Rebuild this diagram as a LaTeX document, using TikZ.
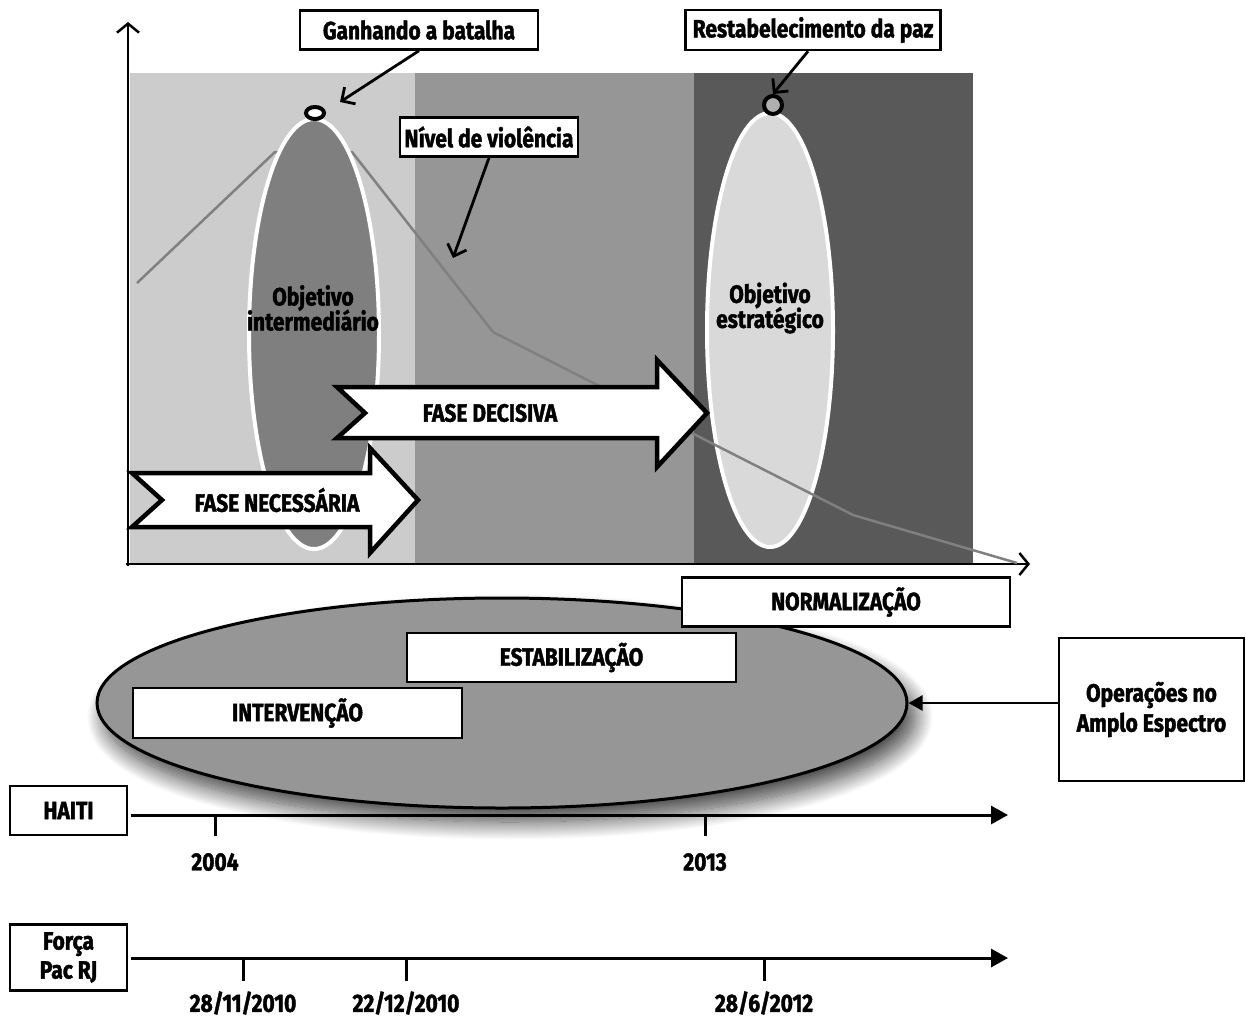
\documentclass[tikz,border=0pt]{standalone}
\usepackage{fontspec}
\setmainfont{Fira Sans}[FakeStretch=0.84, BoldFeatures={FakeBold=1.6}]
\usetikzlibrary{arrows.meta,shapes.geometric,shadows.blur}
\definecolor{panelA}{HTML}{CCCCCC}
\definecolor{panelB}{HTML}{969696}
\definecolor{panelC}{HTML}{595959}
\definecolor{ellA}{HTML}{7F7F7F}
\definecolor{ellB}{HTML}{D9D9D9}
\definecolor{violence}{HTML}{808080}
\definecolor{ringfill}{HTML}{B0B0B0}
\begin{document}
\begin{tikzpicture}[x=1pt,y=-1pt,
  txt/.style={font=\fontsize{25}{27}\selectfont\bfseries, inner sep=0pt, align=center},
  box/.style={txt, draw, line width=2.5pt, fill=white, minimum width=#1},
  callarrow/.style={line width=2.8pt, -{Straight Barb[length=10pt,width=20pt]}},
  axisarrow/.style={line width=2.5pt, -{Straight Barb[length=9pt,width=22pt]}},
  timeline/.style={line width=3pt, -{Triangle[length=17pt,width=18pt]}},
  tick/.style={line width=3pt},
  blockarrow/.style={draw=black, line width=4.5pt, fill=white, line join=miter},
]
\useasboundingbox (0,0) rectangle (1246,1026);

% background panels
\fill[panelA] (130,73) rectangle (415,563);
\fill[panelB] (415,73) rectangle (694,563);
\fill[panelC] (694,73) rectangle (973,563);

% axes
\draw[axisarrow] (128,566) -- (128,22);
\draw[axisarrow] (126,564) -- (1030,564);

% strategic objective ellipse
\node[ellipse, draw=white, line width=4pt, fill=ellB, minimum width=126pt, minimum height=434pt, inner sep=0pt] (obj2) at (770,330) {};

% violence level line
\draw[violence, line width=2.5pt, line join=round] (137,283) -- (275,152) -- (352,152) -- (493,332) -- (853,515) -- (1017,563);

% intermediate objective ellipse
\node[ellipse, draw=white, line width=4pt, fill=ellA, minimum width=130pt, minimum height=430pt, inner sep=0pt] (obj1) at (314,334) {};

% rings
\node[ellipse, draw=black, line width=4pt, fill=white, minimum width=18pt, minimum height=12pt, inner sep=0pt] (ring1) at (315,113) {};
\node[circle, draw=black, line width=4pt, fill=ringfill, minimum size=18pt, inner sep=0pt] (ring2) at (773,105) {};

\node[txt] (obj1txt) at (313,308) {Objetivo\\[-2pt]intermediário};
\node[txt] (obj2txt) at (770,308) {Objetivo\\[-2pt]estratégico};

% block arrows
\draw[blockarrow] (337,387) -- (657,387) -- (657,360) -- (707,413) -- (657,467) -- (657,438) -- (337,438) -- (365,413) -- cycle;
\node[txt] (decisiva) at (490,413) {FASE DECISIVA};
\draw[blockarrow] (132,473) -- (370,473) -- (370,448) -- (418,500) -- (370,553) -- (370,527) -- (132,527) -- (162,500) -- cycle;
\node[txt] (necessaria) at (277,500) {FASE NECESSÁRIA};

% callouts
\node[box=238pt, minimum height=39pt] (ganhando) at (419,30) {Ganhando a batalha};
\node[box=178pt, minimum height=39pt] (nivel) at (489,137) {Nível de violência};
\node[box=255pt, minimum height=40pt] (restab) at (813,30) {Restabelecimento da paz};
\coordinate (tipgan) at (340,102);
\coordinate (tipniv) at (453,258);
\draw[callarrow] (ganhando.south) -- (tipgan);
\draw[callarrow] (nivel.south) -- (tipniv);
\draw[callarrow] ([xshift=-5pt]restab.south) -- (ring2.north);

% full spectrum ellipse
\node[ellipse, draw=black, line width=3pt, fill=panelB, minimum width=810pt, minimum height=210pt, inner sep=0pt,
  blur shadow={shadow xshift=8pt, shadow yshift=-14pt, shadow blur radius=18pt, shadow blur steps=24, shadow opacity=75}] (amplo) at (502,703) {};

\node[box=329pt, minimum height=50pt, line width=2.5pt] (interv) at (297.5,713) {INTERVENÇÃO};
\node[box=329pt, minimum height=49pt, line width=2.5pt] (estab) at (571.5,657.5) {ESTABILIZAÇÃO};
\node[box=328pt, minimum height=49pt, line width=2.5pt] (normal) at (846,602) {NORMALIZAÇÃO};

\node[box=185pt, minimum height=143pt] (ops) at (1151.5,709.5) {Operações no\\[3pt]Amplo Espectro};
\draw[line width=2.5pt, -{Triangle[length=14pt,width=15pt]}] (ops.west |- amplo.east) -- (amplo.east);

% Haiti timeline
\node[box=117pt, minimum height=49pt] (haiti) at (68.5,810.5) {HAITI};
\coordinate (h0) at (131,815);
\coordinate (h1) at (1008,815);
\draw[timeline] (h0) -- (h1);
\draw[tick] (215,815) -- (215,836);
\draw[tick] (705,815) -- (705,836);
\node[txt] (y2004) at (215,862) {2004};
\node[txt] (y2013) at (705,862) {2013};

% Forca Pac timeline
\node[box=117pt, minimum height=66pt] (forca) at (68.5,957.5) {Força\\[2pt]Pac RJ};
\coordinate (f0) at (131,958);
\coordinate (f1) at (1008,958);
\draw[timeline] (f0) -- (f1);
\draw[tick] (243,958) -- (243,981);
\draw[tick] (406,958) -- (406,981);
\draw[tick] (764,958) -- (764,981);
\node[txt] (d1) at (243,1003) {28/11/2010};
\node[txt] (d2) at (406,1003) {22/12/2010};
\node[txt] (d3) at (764,1003) {28/6/2012};
\end{tikzpicture}
\end{document}
